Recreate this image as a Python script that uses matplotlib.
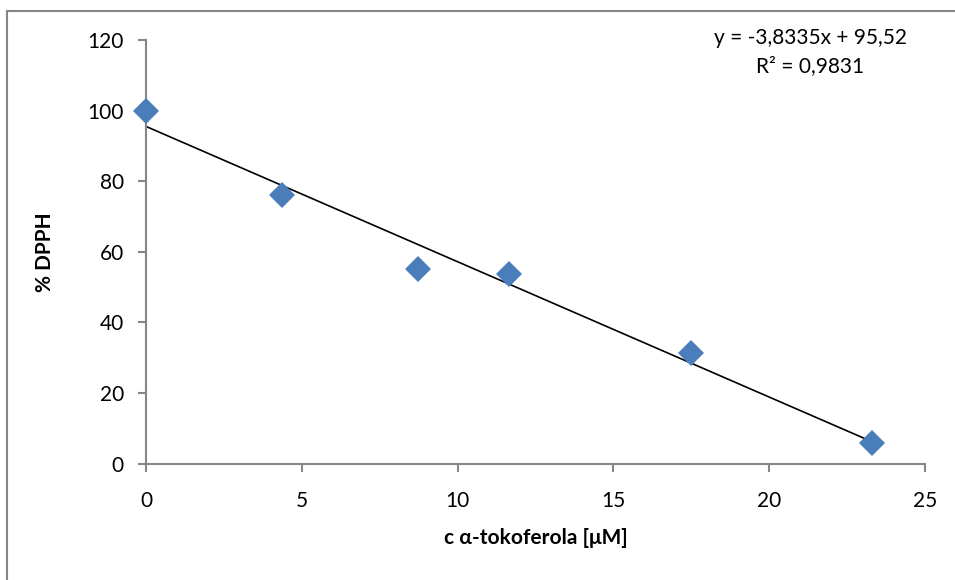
import matplotlib.pyplot as plt
import numpy as np
from matplotlib.patches import Rectangle

# alpha-tocopherol concentration [uM] and remaining DPPH [%]
conc = [0, 4.37, 8.74, 11.65, 17.48, 23.3]
dpph = [100, 76, 55, 53.8, 31.3, 5.8]

# linear trend reported on the chart
slope = -3.8335
intercept = 95.52
r2 = 0.9831

x_ticks = [0, 5, 10, 15, 20, 25]
y_ticks = [0, 20, 40, 60, 80, 100, 120]


def comma(v):
    return str(v).replace('.', ',')


plt.rcParams['font.family'] = ['Lato', 'DejaVu Sans']
gray = '#868686'
fs = 15

fig = plt.figure(figsize=(9.55, 5.8), dpi=100)
ax = fig.add_axes([146 / 955, 116.4 / 580, 779 / 955, 423.6 / 580])

# outer chart frame
fig.patches.append(Rectangle((7 / 955, -0.05), 1.0, (580 - 10.5) / 580 + 0.05,
                             transform=fig.transFigure, fill=False,
                             edgecolor=gray, linewidth=1.5))

xs = np.array([0, max(conc)])
ax.plot(xs, slope * xs + intercept, color='black', linewidth=1.2, zorder=2)
ax.plot(conc, dpph, 'D', color='#4A7EBB', markersize=13, markeredgewidth=0,
        zorder=3, clip_on=False)

ax.set_xlim(0, 25)
ax.set_ylim(0, 120)
ax.set_xticks(x_ticks)
ax.set_yticks(y_ticks)
for side in ['top', 'right']:
    ax.spines[side].set_visible(False)
for side in ['left', 'bottom']:
    ax.spines[side].set_color(gray)
    ax.spines[side].set_linewidth(1.5)
ax.tick_params(direction='out', length=6, width=1.5, color=gray,
               labelsize=fs, labelcolor='black')
ax.tick_params(axis='x', pad=14)
ax.tick_params(axis='y', pad=10)

ax.set_xlabel('c α-tokoferola [μM]', fontsize=fs, fontweight='bold', labelpad=12)
ax.set_ylabel('% DPPH', fontsize=fs, fontweight='bold', labelpad=23)

fig.text(810 / 955, 1 - 38 / 580, f'y = {comma(slope)}x + {comma(intercept)}',
         ha='center', va='center', fontsize=fs)
fig.text(810 / 955, 1 - 66 / 580, f'R² = {comma(r2)}',
         ha='center', va='center', fontsize=fs)

fig.savefig('out.png', dpi=100)
